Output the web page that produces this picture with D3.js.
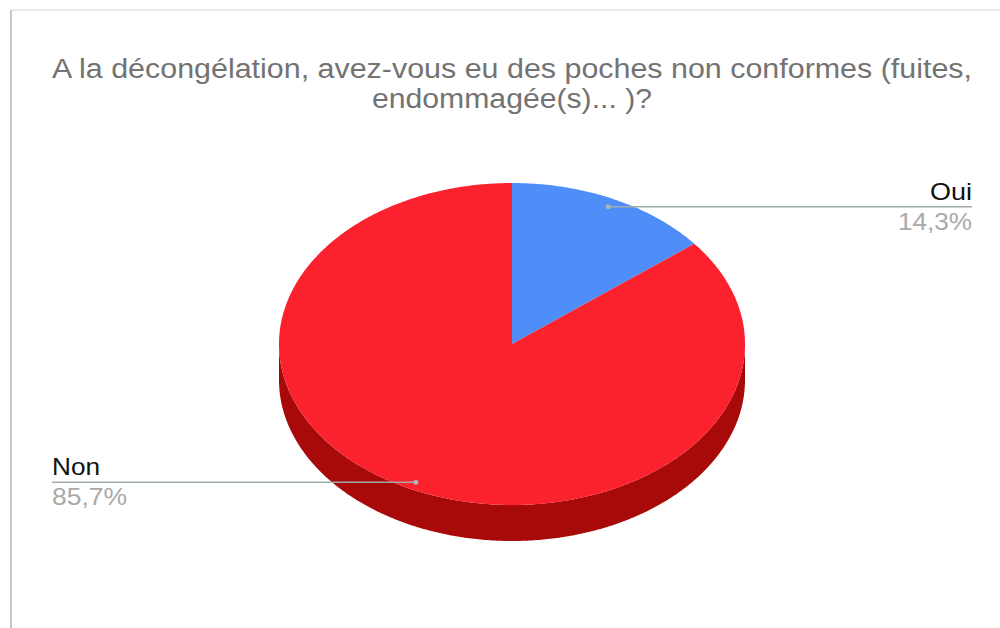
<!DOCTYPE html>
<html><head><meta charset="utf-8">
<script src="https://cdn.jsdelivr.net/npm/d3@7"></script>
<style>html,body{margin:0;padding:0;background:#fff;}svg{display:block;}</style>
</head><body>
<svg id="c" width="1000" height="628"></svg>
<script>
const titleLines = ["A la décongélation, avez-vous eu des poches non conformes (fuites,", "endommagée(s)... )?"];
const categories = ["Oui", "Non"];
const values = [14.3, 85.7];
const percentLabels = ["14,3%", "85,7%"];
const colors = ["#4f8ef8", "#fb222e"];
const sideColors = ["#2f5fb0", "#a80a0a"];

const W = 1000, H = 628;
const svg = d3.select("#c");
const cx = 512, cy = 344, rx = 233, ry = 161, depth = 36;

// frame
svg.append("line").attr("x1", 11).attr("x2", 1000).attr("y1", 10).attr("y2", 10).attr("stroke", "#e2e2e2").attr("stroke-width", 1.5);
svg.append("line").attr("x1", 11).attr("x2", 11).attr("y1", 10).attr("y2", 628).attr("stroke", "#c4c8c6").attr("stroke-width", 2);

// title
const titleY = [78, 108];
const titleW = [920, 280];
titleLines.forEach((t, i) => {
  svg.append("text").attr("x", 512).attr("y", titleY[i]).attr("text-anchor", "middle")
    .attr("font-family", "Liberation Sans, Arial, sans-serif").attr("font-size", 27)
    .attr("fill", "#737373").attr("textLength", titleW[i]).attr("lengthAdjust", "spacingAndGlyphs").text(t);
});

const pie = d3.pie().sort(null).value(d => d).startAngle(0).endAngle(2 * Math.PI);
const arcs = pie(values);

const px = a => cx + rx * Math.sin(a);
const py = a => cy - ry * Math.cos(a);

function arcPoints(a0, a1, dy) {
  const n = Math.max(2, Math.ceil(Math.abs(a1 - a0) / 0.01));
  return d3.range(n + 1).map(i => {
    const a = a0 + (a1 - a0) * i / n;
    return [px(a), py(a) + dy];
  });
}

const gSide = svg.append("g");
const gTop = svg.append("g");

arcs.forEach((d, i) => {
  // side visible: angle range intersect [PI/2, 3PI/2]
  const s0 = Math.max(d.startAngle, Math.PI / 2);
  const s1 = Math.min(d.endAngle, 3 * Math.PI / 2);
  if (s1 > s0) {
    const top = arcPoints(s0, s1, 0);
    const bot = arcPoints(s1, s0, depth);
    gSide.append("path").attr("d", "M" + top.concat(bot).map(p => p.join(",")).join("L") + "Z")
      .attr("fill", sideColors[i]);
  }
  const pts = [[cx, cy]].concat(arcPoints(d.startAngle, d.endAngle, 0));
  gTop.append("path").attr("d", "M" + pts.map(p => p.join(",")).join("L") + "Z").attr("fill", colors[i]);
});

// labels
const font = "Liberation Sans, Arial, sans-serif";
const labelSpecs = [
  { side: "right", xText: 972, nameW: 42, pctW: 74 },
  { side: "left", xText: 52, nameW: 48, pctW: 75 }
];
arcs.forEach((d, i) => {
  const mid = (d.startAngle + d.endAngle) / 2;
  const dx = cx + 0.95 * rx * Math.sin(mid);
  const dy = cy - 0.95 * ry * Math.cos(mid) + 0.5;
  const spec = labelSpecs[i];
  svg.append("line").attr("x1", dx).attr("x2", spec.xText).attr("y1", dy).attr("y2", dy)
    .attr("stroke", "#9fabab").attr("stroke-width", 1.5);
  svg.append("circle").attr("cx", dx).attr("cy", dy).attr("r", 2.5).attr("fill", "#a9b4b4");
  const anchor = spec.side === "right" ? "end" : "start";
  svg.append("text").attr("x", spec.xText).attr("y", dy - 7).attr("text-anchor", anchor)
    .attr("font-family", font).attr("font-size", 24).attr("fill", "#111")
    .attr("textLength", spec.nameW).attr("lengthAdjust", "spacingAndGlyphs").text(categories[i]);
  svg.append("text").attr("x", spec.xText).attr("y", dy + 23).attr("text-anchor", anchor)
    .attr("font-family", font).attr("font-size", 24).attr("fill", "#a9a9a9")
    .attr("textLength", spec.pctW).attr("lengthAdjust", "spacingAndGlyphs").text(percentLabels[i]);
});
</script>
</body></html>
